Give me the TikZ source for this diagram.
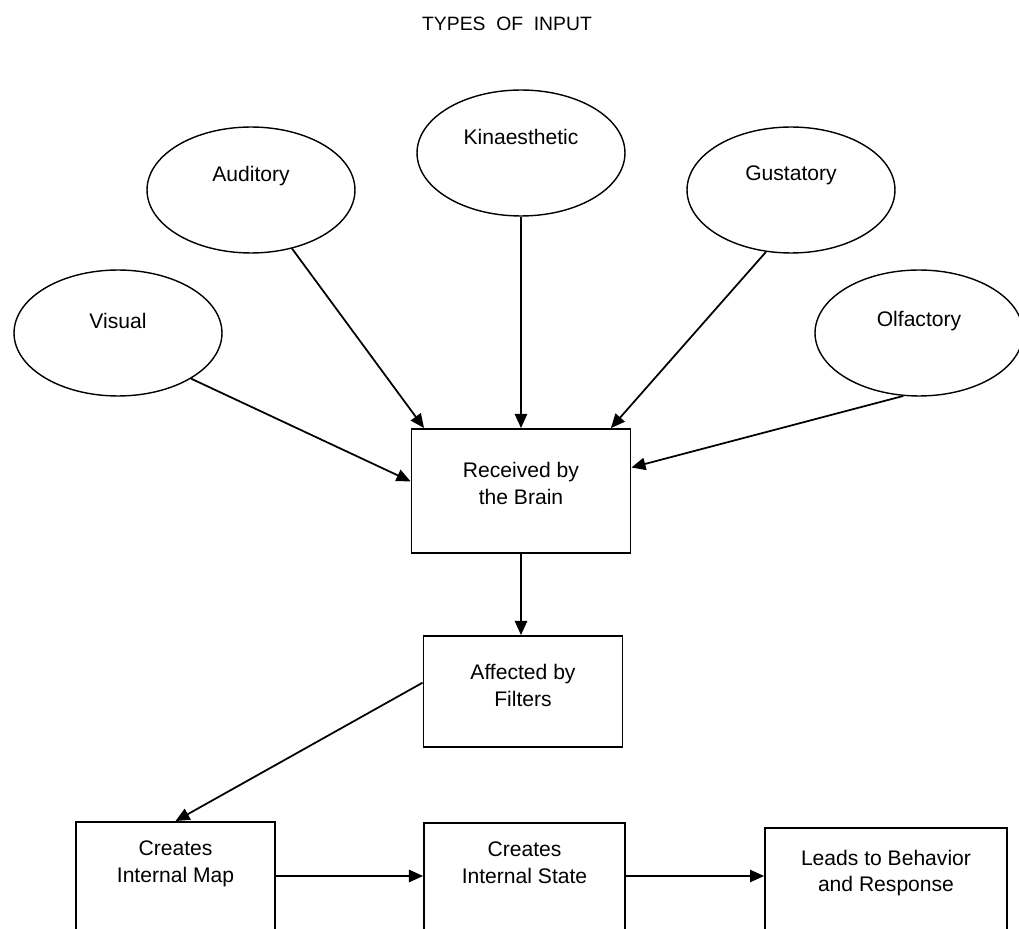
\documentclass[tikz,border=0pt]{standalone}
\usepackage{fontspec}
\setmainfont{Liberation Sans}
\usetikzlibrary{shapes.geometric, arrows.meta}

\begin{document}
\begin{tikzpicture}[
        x=0.02cm, y=-0.02cm,
        every node/.style={font=\fontsize{12}{15.3}\selectfont},
        entrada/.style={draw, ellipse, line width=0.8pt, minimum width=4.16cm, minimum height=2.52cm, inner sep=0pt},
        caja/.style={draw, line width=1.1pt, minimum width=3.98cm, inner sep=0pt},
        flecha/.style={-{Triangle[length=8pt, width=7pt]}, line width=1pt}
    ]
    \clip (0,0) rectangle (1019,929);

    % Titulo
    \node[font=\fontsize{11}{13}\selectfont] (titulo) at (507,24) {TYPES\ \ OF\ \ INPUT};

    % Tipos de entrada
    \node[entrada, label={[yshift=0.24cm]center:Visual}] (visual) at (118,333) {};
    \node[entrada, label={[yshift=0.28cm]center:Auditory}] (auditory) at (251,190) {};
    \node[entrada, label={[yshift=0.32cm]center:Kinaesthetic}] (kinaesthetic) at (521,153) {};
    \node[entrada, label={[yshift=0.30cm]center:Gustatory}] (gustatory) at (791,190) {};
    \node[entrada, label={[yshift=0.24cm]center:Olfactory}] (olfactory) at (919,333) {};

    % Cajas
    \node[caja, minimum width=4.38cm, minimum height=2.48cm, label={[align=center, yshift=0.15cm]center:Received by\\the Brain}] (receivedBrain) at (521,491) {};
    \node[caja, minimum height=2.22cm, label={[align=center, yshift=0.12cm]center:Affected by\\Filters}] (affectedFilters) at (523,691.5) {};
    \node[caja, minimum height=3.12cm, label={[align=center, yshift=0.72cm]center:Creates\\Internal Map}] (internalMap) at (175.5,900) {};
    \node[caja, minimum width=4.02cm, minimum height=3.08cm, label={[align=center, yshift=0.74cm]center:Creates\\Internal State}] (internalState) at (524.5,900) {};
    \node[caja, minimum width=4.84cm, minimum height=2.88cm, label={[align=center, yshift=0.54cm]center:Leads to Behavior\\and Response}] (behavior) at (886,900) {};

    % Flechas
    \draw[flecha] (visual.-32) -- (receivedBrain.175);
    \draw[flecha] (auditory.-55) -- (receivedBrain.147);
    \draw[flecha] (kinaesthetic.south) -- (receivedBrain.north);
    \draw[flecha] (gustatory.-112) -- (receivedBrain.35);
    \draw[flecha] (olfactory.-104) -- (receivedBrain.12);
    \draw[flecha] (receivedBrain.south) -- (receivedBrain.south |- affectedFilters.north);
    \draw[flecha] (affectedFilters.175) -- (internalMap.north);
    \draw[flecha] ([yshift=0.48cm]internalMap.east) -- ([yshift=0.48cm]internalState.west);
    \draw[flecha] ([yshift=0.48cm]internalState.east) -- ([yshift=0.48cm]behavior.west);
\end{tikzpicture}
\end{document}
